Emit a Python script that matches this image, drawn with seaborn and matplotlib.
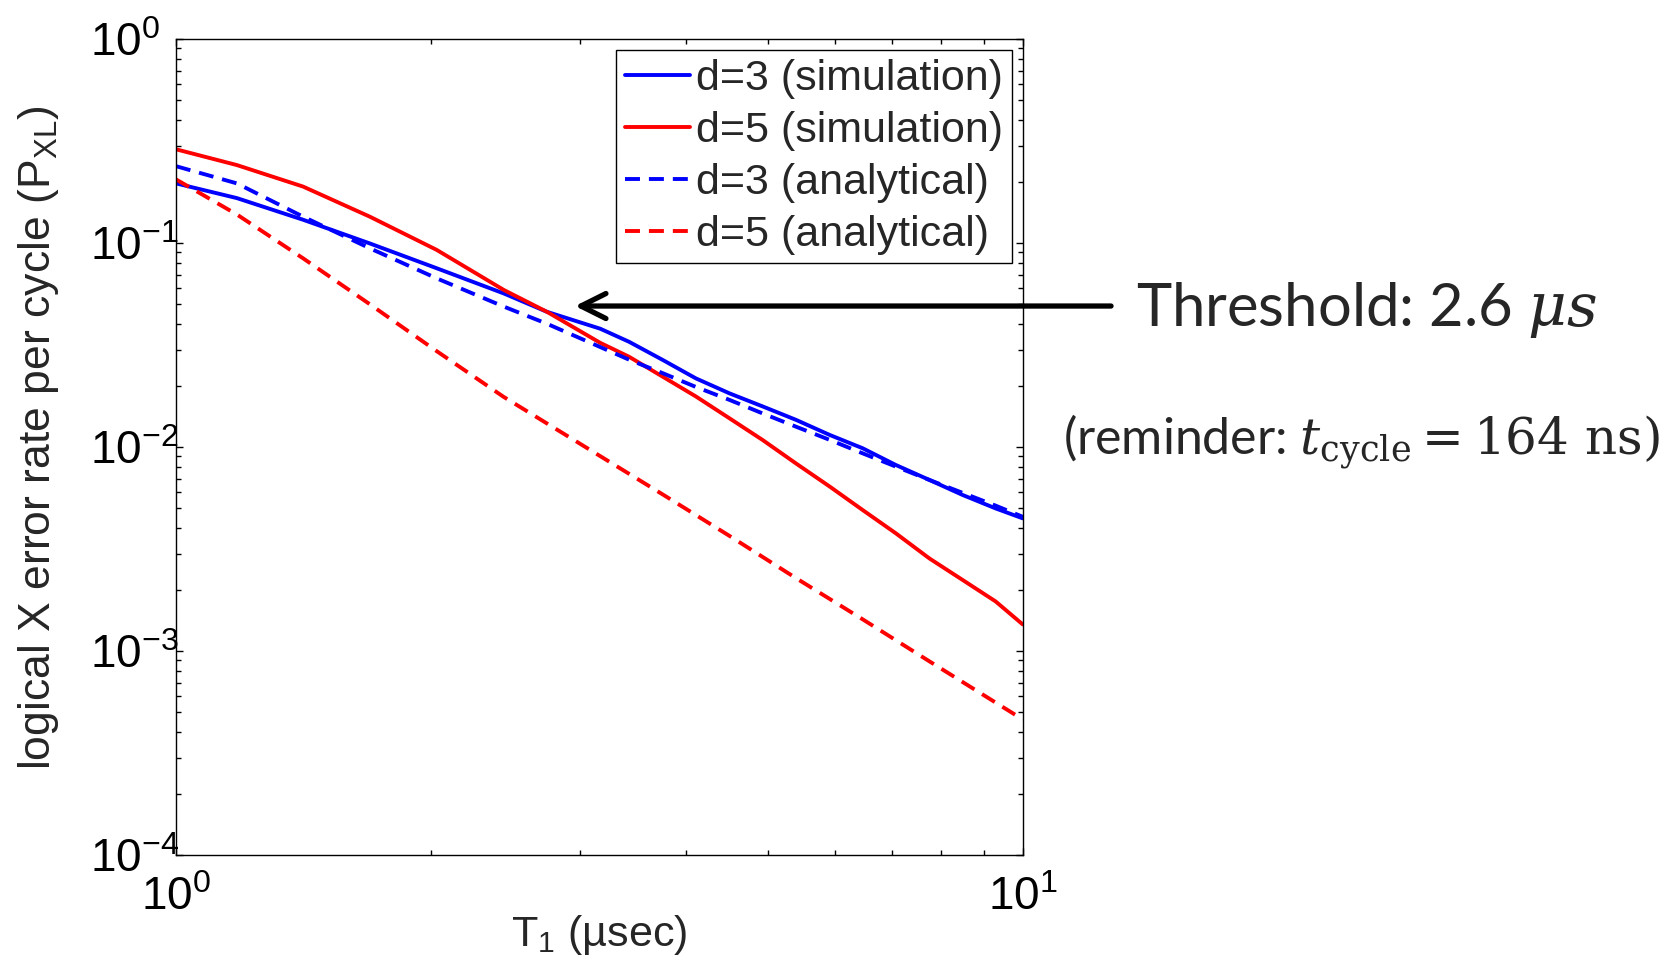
import numpy as np
import pandas as pd
import seaborn as sns
import matplotlib.pyplot as plt
from matplotlib.ticker import NullFormatter, LogLocator

# T1 (usec) sample points
t1_sim = [1.00, 1.18, 1.413, 1.694, 2.032, 2.438, 2.742, 3.170, 3.428, 3.758, 4.111,
          4.508, 4.932, 5.395, 5.916, 6.471, 7.079, 7.762, 8.492, 9.290, 10.0]
t1_d5_ana = [1.00, 1.18, 1.413, 1.694, 2.032, 2.438, 3.170, 3.758, 4.508, 5.395,
             6.471, 7.762, 10.0]

# logical X error rate per cycle
p_d3_sim = [0.196, 0.166, 0.130, 0.0995, 0.0752, 0.0566, 0.0460, 0.0380, 0.0328, 0.0267,
            0.0217, 0.0183, 0.0158, 0.0136, 0.01146, 0.00986, 0.00817, 0.00689, 0.00582,
            0.00500, 0.00447]
p_d5_sim = [0.288, 0.241, 0.189, 0.1346, 0.0925, 0.0589, 0.0460, 0.0324, 0.0277, 0.0221,
            0.0177, 0.0138, 0.01081, 0.00832, 0.00640, 0.00491, 0.00378, 0.00284, 0.00223,
            0.00175, 0.00135]
p_d3_ana = [0.238, 0.196, 0.1346, 0.0942, 0.0671, 0.0488, 0.0402, 0.0309, 0.0268, 0.0230,
            0.0197, 0.0170, 0.0146, 0.01259, 0.01084, 0.00931, 0.00802, 0.00689, 0.00596,
            0.00516, 0.00455]
p_d5_ana = [0.205, 0.138, 0.0841, 0.0501, 0.0295, 0.0176, 0.00902, 0.00585, 0.00366,
            0.00228, 0.00143, 0.000889, 0.000462]

labels = ['d=3 (simulation)', 'd=5 (simulation)', 'd=3 (analytical)', 'd=5 (analytical)']
series = [(t1_sim, p_d3_sim), (t1_sim, p_d5_sim), (t1_sim, p_d3_ana), (t1_d5_ana, p_d5_ana)]
colors = ['#0000ff', '#ff0000', '#0000ff', '#ff0000']
styles = ['-', '-', (0, (3.85, 2.3)), (0, (3.85, 2.3))]

sns.set_style('ticks')
plt.rcParams['font.family'] = ['Liberation Sans', 'DejaVu Sans']
plt.rcParams['mathtext.fontset'] = 'dejavuserif'
plt.rcParams['mathtext.default'] = 'regular'
plt.rcParams['axes.unicode_minus'] = True

fig = plt.figure(figsize=(16.75, 9.66), dpi=100)
ax = fig.add_axes([0.10507, 0.11491, 0.50549, 0.84472])
ax.set_xscale('log')
ax.set_yscale('log')

for (t, p), lab, c, ls in zip(series, labels, colors, styles):
    df = pd.DataFrame({'T1': t, 'P': p})
    sns.lineplot(data=df, x='T1', y='P', color=c, linestyle=ls, lw=2.8,
                 label=lab, ax=ax, errorbar=None)

ax.set_xlim(1, 10)
ax.set_ylim(1e-4, 1)
ax.yaxis.set_major_locator(LogLocator(base=10, numticks=10))
ax.yaxis.set_minor_locator(LogLocator(base=10, subs=np.arange(2, 10), numticks=10))
ax.xaxis.set_minor_formatter(NullFormatter())
ax.yaxis.set_minor_formatter(NullFormatter())

for s in ax.spines.values():
    s.set_visible(True)
    s.set_color('black')
    s.set_linewidth(1.0)
ax.tick_params(which='both', direction='in', top=True, right=True, color='black',
               width=1.0, labelsize=33, labelcolor='black')
ax.tick_params(which='major', length=5)
ax.tick_params(which='minor', length=3.3)
ax.tick_params(axis='x', which='major', pad=15)
ax.tick_params(axis='y', which='major', pad=62)

ax.set_xlabel(r'T$_1$ (µsec)', fontsize=31)
ax.set_ylabel(r'logical X error rate per cycle (P$_{XL}$)', fontsize=32)
ax.xaxis.set_label_coords(0.5, -0.071)
ax.xaxis.label.set_va('top')
ax.yaxis.set_label_coords(-0.136, 0.511)

leg = ax.legend(loc='upper right', bbox_to_anchor=(0.987, 0.9865), borderaxespad=0,
                fontsize=31, frameon=True, fancybox=False, framealpha=1,
                edgecolor='black', handlelength=1.5, handletextpad=0.15,
                borderpad=0.2, labelspacing=0.28)
leg.get_frame().set_linewidth(1.0)

ax.annotate('', xy=(0.3433, 0.6832), xytext=(0.6633, 0.6832),
            xycoords='figure fraction', textcoords='figure fraction',
            annotation_clip=False,
            arrowprops=dict(arrowstyle='->,head_length=0.9,head_width=0.45',
                            lw=3.8, color='black', shrinkA=0, shrinkB=0,
                            mutation_scale=20))

fig.text(1136 / 1675, 1 - 326 / 966, r'Threshold: 2.6 $\mathit{\mu s}$',
         fontsize=43, family='Lato', ha='left', va='baseline')
fig.text(1063 / 1675, 1 - 454 / 966,
         r'(reminder: $\mathit{t}_{\mathrm{cycle}} \mathrm{=} \mathrm{164\ ns)}$',
         fontsize=36, family='Lato', ha='left', va='baseline')

fig.canvas.draw()
for tick in ax.yaxis.get_major_ticks():
    tick.label1.set_ha('left')

fig.savefig('out.png', dpi=100)
